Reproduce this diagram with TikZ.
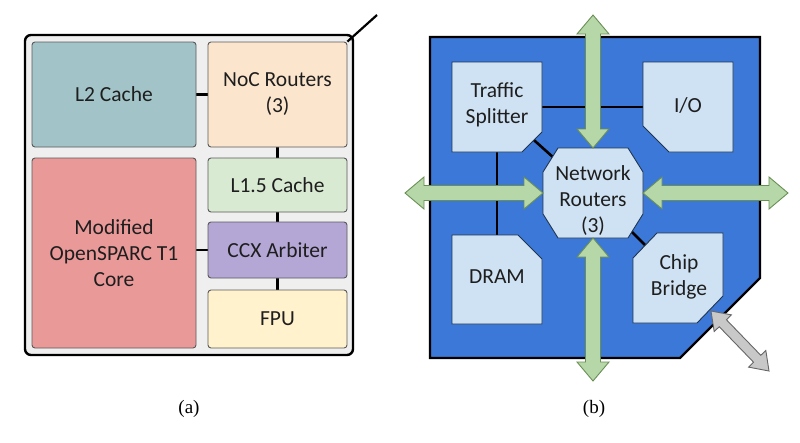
\documentclass[tikz,border=0pt]{standalone}
\usepackage{fontspec}
\setmainfont{Liberation Serif}
\newfontfamily\calfont{Carlito}
\usetikzlibrary{calc}
\definecolor{outergray}{HTML}{EFEFEF}
\definecolor{ltwo}{HTML}{A2C4C9}
\definecolor{noc}{HTML}{FCE5CD}
\definecolor{corered}{HTML}{EA9999}
\definecolor{lonefive}{HTML}{D9EAD3}
\definecolor{ccx}{HTML}{B4A7D6}
\definecolor{fpu}{HTML}{FFF2CC}
\definecolor{chipblue}{HTML}{3C78D8}
\definecolor{boxblue}{HTML}{CFE2F3}
\definecolor{boxedge}{HTML}{1F3550}
\definecolor{arrgreen}{HTML}{B6D7A8}
\definecolor{arrgreenedge}{HTML}{6A8F55}
\definecolor{arrgray}{HTML}{C8C8C8}
\definecolor{arrgrayedge}{HTML}{666666}
\definecolor{txt}{HTML}{1E1E1E}
\newcommand\fatarrow[6]{%
  \coordinate (fa1) at ($(#2)!#6!(#3)$);
  \coordinate (fa2) at ($(#3)!#6!(#2)$);
  \draw[#1] (#2) -- ($(fa1)!#4!90:(#3)$) -- ($(fa1)!#5!90:(#3)$)
    -- ($(fa2)!#5!-90:(#2)$) -- ($(fa2)!#4!-90:(#2)$) -- (#3)
    -- ($(fa2)!#4!90:(#2)$) -- ($(fa2)!#5!90:(#2)$)
    -- ($(fa1)!#5!-90:(#3)$) -- ($(fa1)!#4!-90:(#3)$) -- cycle;
}
\begin{document}
\begin{tikzpicture}[x=1pt,y=-1pt,
  lbl/.style={font=\calfont\fontsize{21.5}{26}\selectfont, text=txt, align=center, inner sep=0pt},
  blk/.style={lbl, draw=black!65, line width=0.9pt, rounded corners=3pt},
  link/.style={draw=black, line width=2.6pt},
  chipbox/.style={fill=boxblue, draw=boxedge, line width=0.9pt},
  greenarr/.style={fill=arrgreen, draw=arrgreenedge, line width=0.9pt, line join=miter},
  grayarr/.style={fill=arrgray, draw=arrgrayedge, line width=0.9pt},
  sublabel/.style={font=\fontsize{19}{22}\selectfont, inner sep=0pt}]
\useasboundingbox (0,0) rectangle (800,442);
% ---------- panel (a)
\draw[fill=outergray, draw=black, line width=2.4pt, rounded corners=6pt] (25,35) rectangle (353,355);
\coordinate (l2c) at (114,94.5);
\coordinate (nocc) at (277.5,94.5);
\draw[link] (l2c) -- (nocc);
\draw[link] (277.5,94.5) -- (277.5,319);
\draw[link] (114,250) -- (277.5,250);
\node[blk, fill=ltwo, minimum width=164pt, minimum height=105pt] (l2) at (l2c) {L2 Cache};
\node[blk, fill=noc, minimum width=139pt, minimum height=105pt] (nocr) at (nocc) {NoC Routers\\(3)};
\node[blk, fill=corered, minimum width=164pt, minimum height=190pt] (core) at (114,253) {Modified\\OpenSPARC T1\\Core};
\node[blk, fill=lonefive, minimum width=139pt, minimum height=54pt] (l15) at (277.5,185) {L1.5 Cache};
\node[blk, fill=ccx, minimum width=139pt, minimum height=56pt] (ccxa) at (277.5,250) {CCX Arbiter};
\node[blk, fill=fpu, minimum width=139pt, minimum height=58pt] (fpu) at (277.5,319) {FPU};
\coordinate (zoomend) at (377,15);
\draw[black, line width=2.2pt] (nocr.north east) -- (zoomend);
\node[sublabel] (capa) at (189,409) {(a)};
% ---------- panel (b)
\draw[fill=chipblue, draw=black, line width=2.2pt] (430,37) -- (760,37) -- (760,278) -- (680,358) -- (430,358) -- cycle;
\coordinate (tsc) at (497,107);
\coordinate (ioc) at (688,107);
\coordinate (drc) at (497,279.5);
\coordinate (cbc) at (678,278);
\coordinate (rc) at (593,193);
\draw[link] (tsc) -- (ioc);
\draw[link] (tsc) -- (drc);
\draw[link] (tsc) -- (rc);
\draw[link] (rc) -- (cbc);
\draw[chipbox] (452,62) -- (542,62) -- (542,132) -- (522,152) -- (452,152) -- cycle;
\draw[chipbox] (643,62) -- (733,62) -- (733,152) -- (669,152) -- (643,126) -- cycle;
\draw[chipbox] (452,235) -- (518,235) -- (542,259) -- (542,324) -- (452,324) -- cycle;
\draw[chipbox] (657,233) -- (723,233) -- (723,296) -- (697,323) -- (633,323) -- (633,258) -- cycle;
\draw[chipbox] (558,148) -- (628,148) -- (643,172) -- (643,214) -- (628,238) -- (558,238) -- (543,214) -- (543,172) -- cycle;
\node[lbl] (ts) at (497,105) {Traffic\\Splitter};
\node[lbl] (io) at (688,105) {I/O};
\node[lbl] (dram) at (497,277) {DRAM};
\node[lbl] (cb) at (679,277) {Chip\\Bridge};
\node[lbl] (rtr) at (593,201) {Network\\Routers\\(3)};
\coordinate (rN) at (593,148);
\coordinate (rS) at (593,238);
\coordinate (rW) at (543,193);
\coordinate (rE) at (643,193);
\coordinate (gT) at (593,15);
\coordinate (gB) at (593,381);
\coordinate (gL) at (405,193);
\coordinate (gR) at (788,193);
\fatarrow{greenarr}{gT}{rN}{16pt}{7.5pt}{19pt}
\fatarrow{greenarr}{rS}{gB}{16pt}{7.5pt}{19pt}
\fatarrow{greenarr}{gL}{rW}{16pt}{7.5pt}{19pt}
\fatarrow{greenarr}{rE}{gR}{16pt}{7.5pt}{19pt}
\coordinate (cbport) at (711,311);
\coordinate (offchip) at (769,371);
\fatarrow{grayarr}{cbport}{offchip}{12pt}{5pt}{17pt}
\node[sublabel] (capb) at (594,409) {(b)};
\end{tikzpicture}
\end{document}
